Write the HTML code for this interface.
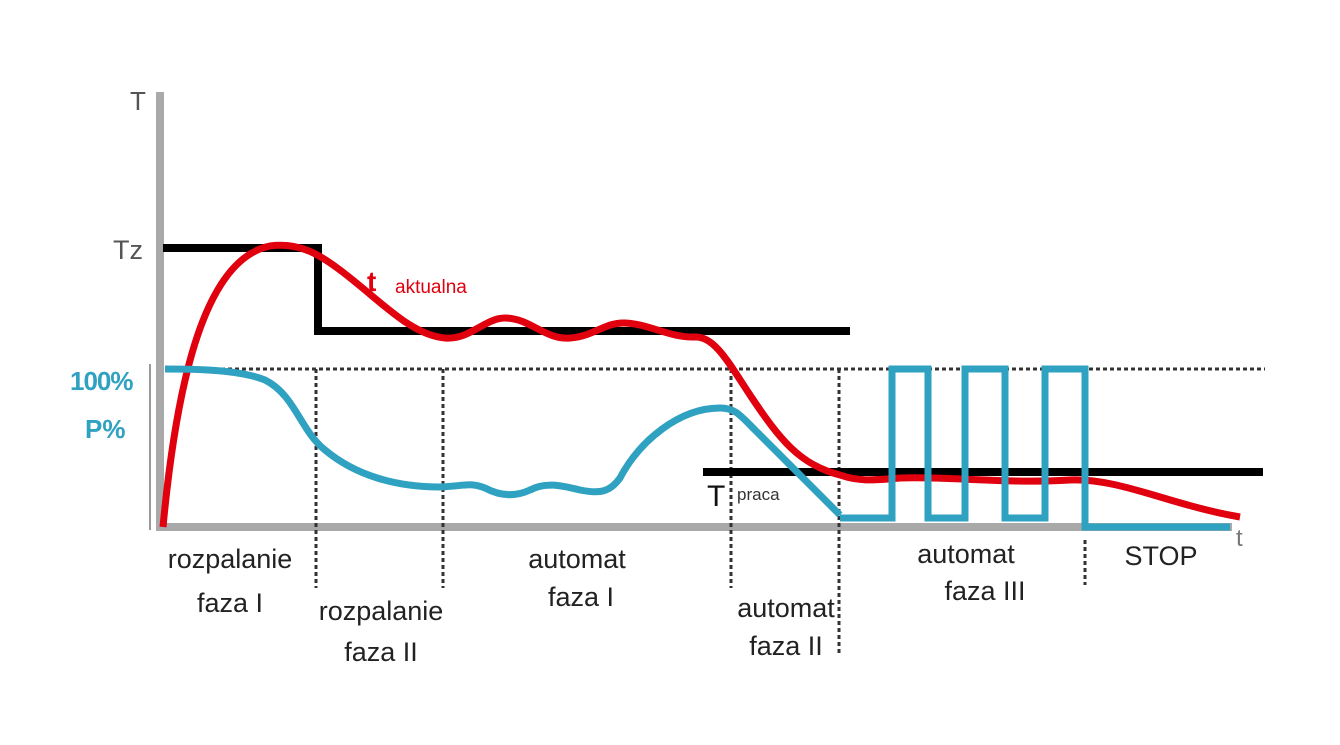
<!DOCTYPE html>
<html><head><meta charset="utf-8"><style>
html,body{margin:0;padding:0;background:#fff;}
svg{display:block;}
text{font-family:"Liberation Sans",Arial,sans-serif;}
</style></head><body>
<svg width="1340" height="745" viewBox="0 0 1340 745" xmlns="http://www.w3.org/2000/svg" font-family="Liberation Sans, Arial, sans-serif">
<rect width="1340" height="745" fill="#fff"/>
<line x1="160" y1="92" x2="160" y2="531" stroke="#a9a9a9" stroke-width="8"/>
<line x1="156" y1="527" x2="1232" y2="527" stroke="#a9a9a9" stroke-width="8"/>
<line x1="150" y1="364" x2="150" y2="530" stroke="#999" stroke-width="2"/>
<g stroke="#333" stroke-width="3" stroke-dasharray="4,3" fill="none">
<line x1="165" y1="369" x2="1265" y2="369"/>
<line x1="316" y1="369" x2="316" y2="588"/>
<line x1="443" y1="369" x2="443" y2="588"/>
<line x1="731" y1="369" x2="731" y2="588"/>
<line x1="839" y1="369" x2="839" y2="655"/>
<line x1="1085" y1="540" x2="1085" y2="585"/>
</g>
<polyline points="163,248 318,248 318,331 850,331" fill="none" stroke="#000" stroke-width="8"/>
<line x1="703" y1="472" x2="1263" y2="472" stroke="#000" stroke-width="8"/>
<path d="M163,527 C175,400 200,260 270,246 C300,242 320,255 340,270 C380,300 410,335 445,338 C470,340 485,318 505,318 C530,318 545,340 570,338 C595,336 605,322 625,323 C650,324 670,338 695,337 C715,336 730,365 750,395 C780,440 800,465 840,475 C860,482 875,480 900,478 C950,476 1000,484 1070,480 C1120,478 1170,505 1240,517" fill="none" stroke="#e0000e" stroke-width="7"/>
<path d="M165,369 C200,369 240,370 265,380 C295,395 300,430 325,450 C355,475 395,487 440,487 C465,486 470,482 485,488 C500,496 515,497 530,490 C545,482 560,485 580,490 C600,494 610,492 620,478 C640,440 680,408 720,408 C735,408 740,415 755,430 L840,515" fill="none" stroke="#2fa1c1" stroke-width="7"/>
<polyline points="840,518 892,518 892,369 928,369 928,518 965,518 965,369 1005,369 1005,518 1045,518 1045,369 1085,369 1085,527 1230,527" fill="none" stroke="#2fa1c1" stroke-width="7"/>
<text x="130" y="110" font-size="26" fill="#555">T</text>
<text x="113" y="259" font-size="27" fill="#555">Tz</text>
<text x="70" y="390" font-size="26" font-weight="bold" fill="#2fa1c1" letter-spacing="-1">100%</text>
<text x="85" y="438" font-size="26" font-weight="bold" fill="#2fa1c1">P%</text>
<text x="367" y="291" font-size="28" font-weight="bold" fill="#e0000e">t</text>
<text x="395" y="293" font-size="19" fill="#e0000e">aktualna</text>
<text x="707" y="506" font-size="30" fill="#111">T</text>
<text x="737" y="500" font-size="17" fill="#333">praca</text>
<text x="1236" y="546" font-size="24" fill="#777">t</text>
<g font-size="27" fill="#222" text-anchor="middle">
<text x="230" y="568">rozpalanie</text>
<text x="230" y="612">faza I</text>
<text x="381" y="620">rozpalanie</text>
<text x="381" y="661">faza II</text>
<text x="577" y="568">automat</text>
<text x="581" y="606">faza I</text>
<text x="786" y="617">automat</text>
<text x="786" y="655">faza II</text>
<text x="966" y="563">automat</text>
<text x="985" y="600">faza III</text>
<text x="1161" y="565">STOP</text>
</g>
</svg>
</body></html>
